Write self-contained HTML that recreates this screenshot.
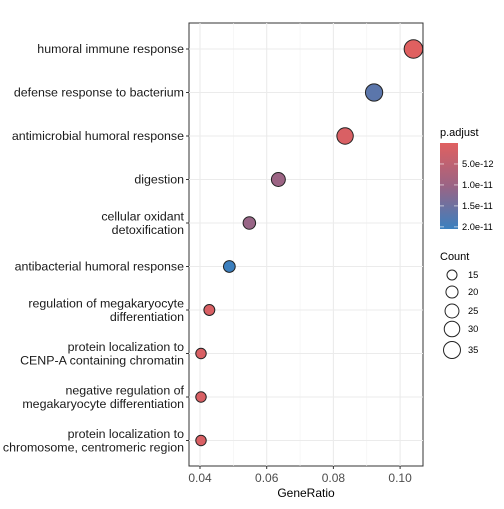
<!DOCTYPE html>
<html><head><meta charset="utf-8"><style>
body{margin:0;background:#fff}
svg{font-family:"Liberation Sans",sans-serif}
</style></head><body>
<svg id="c" width="504" height="504">
<defs><linearGradient id="g" x1="0" y1="0" x2="0" y2="1">
<stop offset="0" stop-color="#e06060"/><stop offset="0.5" stop-color="#9a6485"/><stop offset="1" stop-color="#3a80bf"/></linearGradient></defs>
</svg>
<script>
const terms=[["humoral immune response"],["defense response to bacterium"],["antimicrobial humoral response"],["digestion"],["cellular oxidant","detoxification"],["antibacterial humoral response"],["regulation of megakaryocyte","differentiation"],["protein localization to","CENP-A containing chromatin"],["negative regulation of","megakaryocyte differentiation"],["protein localization to","chromosome, centromeric region"]];
const geneRatio=[0.104,0.0922,0.0835,0.0635,0.0548,0.0488,0.0428,0.0403,0.0403,0.0403];
const counts=[41,36,33,25,21,19,17,16,16,16];
const padj=[1e-13,1.7e-11,1e-12,1e-11,1.05e-11,2.03e-11,1e-12,1e-12,1e-12,1e-12];
const xTicks=[0.04,0.06,0.08,0.10];
const pTicks=[5e-12,1e-11,1.5e-11,2e-11];
const sizeBreaks=[15,20,25,30,35];
const NS="http://www.w3.org/2000/svg",svg=document.getElementById('c');
function mk(t,a,p){const e=document.createElementNS(NS,t);for(const k in a)e.setAttribute(k,a[k]);(p||svg).appendChild(e);return e;}
const X=v=>200+(v-0.04)/0.02*66.7;
const Y=i=>49+i*43.5;
const R=c=>Math.sqrt(Math.max(4,25+(c-15)*2.35));
const pMin=0,pMax=2.05e-11;
const PY=p=>143+(p-pMin)/(pMax-pMin)*86;
function col(p){const t=Math.min(1,Math.max(0,(p-pMin)/(pMax-pMin)));const a=[224,96,96],m=[154,100,133],b=[58,128,191];let c;if(t<0.5){const u=t/0.5;c=a.map((v,k)=>v+(m[k]-v)*u);}else{const u=(t-0.5)/0.5;c=m.map((v,k)=>v+(b[k]-v)*u);}return `rgb(${c.map(Math.round).join(',')})`;}
let e=mk('rect',{x:189,y:23,width:234,height:443,fill:'#fff',stroke:'#333','stroke-width':1});

[0.05,0.07,0.09].forEach(v=>mk('line',{x1:X(v),x2:X(v),y1:23,y2:466,stroke:'#f2f2f2','stroke-width':0.6}));
xTicks.forEach(v=>{mk('line',{x1:X(v),x2:X(v),y1:23,y2:466,stroke:'#ebebeb','stroke-width':1.1});
mk('line',{x1:X(v),x2:X(v),y1:466,y2:469,stroke:'#333'});
const t=mk('text',{x:X(v),y:482,'text-anchor':'middle','font-size':12,fill:'#4d4d4d'});t.textContent=v.toFixed(2);
});
terms.forEach((lab,i)=>{const y=Y(i);
mk('line',{x1:189,x2:423,y1:y,y2:y,stroke:'#ebebeb','stroke-width':1.1});
mk('line',{x1:186,x2:189,y1:y,y2:y,stroke:'#333'});
const t=mk('text',{x:184,'text-anchor':'end','font-size':12.4,fill:'#1a1a1a'});

lab.forEach((l,j)=>{const s=mk('tspan',{x:184,y:y+4+(j-(lab.length-1)/2)*13.5},t);s.textContent=l;});});
terms.forEach((l,i)=>{const c=mk('circle',{cx:X(geneRatio[i]),cy:Y(i),r:R(counts[i]),fill:col(padj[i]),stroke:'#222','stroke-width':1});
});
e=mk('text',{x:306,y:497,'text-anchor':'middle','font-size':12,fill:'#000'});e.textContent='GeneRatio';

e=mk('text',{x:440,y:136,'font-size':11,fill:'#000'});e.textContent='p.adjust';

e=mk('rect',{x:440,y:143,width:18,height:86,fill:'url(#g)'});

pTicks.forEach(p=>{const y=PY(p);mk('line',{x1:440,x2:444,y1:y,y2:y,stroke:'#fff','stroke-width':0.6});mk('line',{x1:454,x2:458,y1:y,y2:y,stroke:'#fff','stroke-width':0.6});
const t=mk('text',{x:462,y:y+3,'font-size':9.3,fill:'#000'});t.textContent=p.toExponential(1);
});
e=mk('text',{x:440,y:260,'font-size':11,fill:'#000'});e.textContent='Count';

const ky=[275,292,311,329,350];
sizeBreaks.forEach((c,i)=>{const k=mk('circle',{cx:452,cy:ky[i],r:R(c),fill:'none',stroke:'#222','stroke-width':1});

const t=mk('text',{x:468,y:ky[i]+3,'font-size':9.3,fill:'#000'});t.textContent=c;
});
</script>
</body></html>
